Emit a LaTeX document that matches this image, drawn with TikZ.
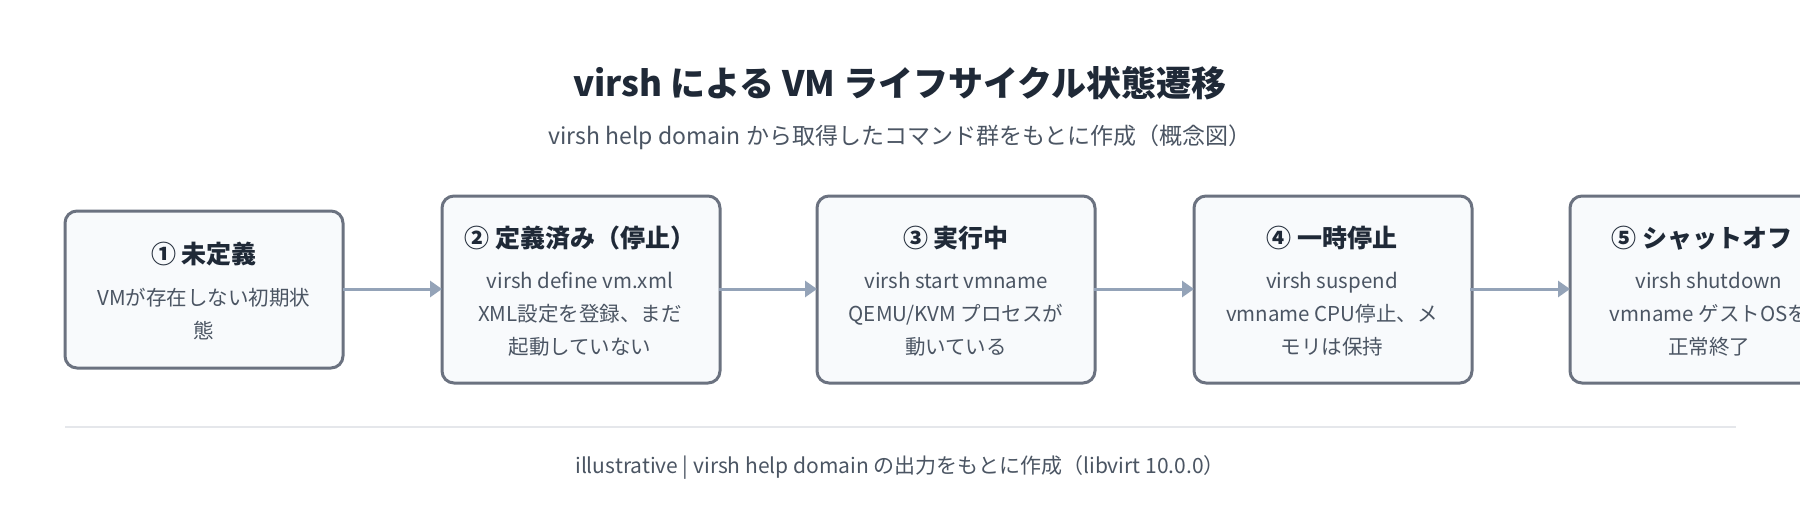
\documentclass[tikz,border=0pt]{standalone}
\usepackage{fontspec}
\usetikzlibrary{arrows.meta}
\setmainfont{Noto Sans CJK JP}
\begin{document}
\begin{tikzpicture}[x=1pt,y=-1pt,
 box/.style={draw=bc,fill=bf,line width=3pt,rounded corners=12pt,minimum width=278pt,anchor=north west},
 ttl/.style={font=\fontsize{25}{30}\selectfont\bfseries,text=tc},
 body/.style={font=\fontsize{20.5}{33}\selectfont,text=bt,align=center},
 arr/.style={draw=ac,line width=3pt,-{Triangle[length=12pt,width=16pt]}}]
\definecolor{bc}{HTML}{6B7280}\definecolor{bf}{HTML}{F8FAFC}
\definecolor{tc}{HTML}{1F2937}\definecolor{bt}{HTML}{4B5563}
\definecolor{ac}{HTML}{94A3B8}\definecolor{lc}{HTML}{E5E7EB}
\useasboundingbox[clip] (0,0) rectangle (1800,522);
\fill[white] (0,0) rectangle (1800,522);
\node[font=\fontsize{35}{40}\selectfont\bfseries,text=tc] (title) at (900,83) {virsh による VM ライフサイクル状態遷移};
\node[font=\fontsize{23}{28}\selectfont,text=bt] (sub) at (900,137) {virsh help domain から取得したコマンド群をもとに作成（概念図）};
\foreach \n/\x/\y/\h in {b1/65/211/157,b2/442/196/187,b3/817/196/187,b4/1194/196/187,b5/1570/196/187}
  \path[box] (\x,\y) rectangle ++(278,\h) coordinate (\n-se);
\coordinate (b1w) at (65,289); \coordinate (b1e) at (343,289);
\coordinate (b2w) at (442,289); \coordinate (b2e) at (719,289);
\coordinate (b3w) at (817,289); \coordinate (b3e) at (1094,289);
\coordinate (b4w) at (1194,289); \coordinate (b4e) at (1470,289);
\coordinate (b5w) at (1570,289);
\node[ttl] (t1) at (204,254) {① 未定義};
\node[body] (d1) at (204,314) {VMが存在しない初期状\\態};
\node[ttl] (t2) at (580,238) {② 定義済み（停止）};
\node[body] (d2) at (580,314) {virsh define vm.xml\\XML設定を登録、まだ\\起動していない};
\node[ttl] (t3) at (956,238) {③ 実行中};
\node[body] (d3) at (956,314) {virsh start vmname\\QEMU/KVM プロセスが\\動いている};
\node[ttl] (t4) at (1332,238) {④ 一時停止};
\node[body] (d4) at (1332,314) {virsh suspend\\vmname CPU停止、メ\\モリは保持};
\node[ttl,anchor=west] (t5) at (1608,238) {⑤ シャットオフ};
\node[body] (d5) at (1709,314) {virsh shutdown\\vmname ゲストOSを\\正常終了};
\draw[arr] (b1e) -- (b2w);
\draw[arr] (b2e) -- (b3w);
\draw[arr] (b3e) -- (b4w);
\draw[arr] (b4e) -- (b5w);
\coordinate (l1) at (65,427); \coordinate (l2) at (1736,427);
\draw[lc,line width=1.5pt] (l1) -- (l2);
\node[font=\fontsize{21}{26}\selectfont,text=bt] (foot) at (900,467) {illustrative | virsh help domain の出力をもとに作成（libvirt 10.0.0）};
\end{tikzpicture}
\end{document}
